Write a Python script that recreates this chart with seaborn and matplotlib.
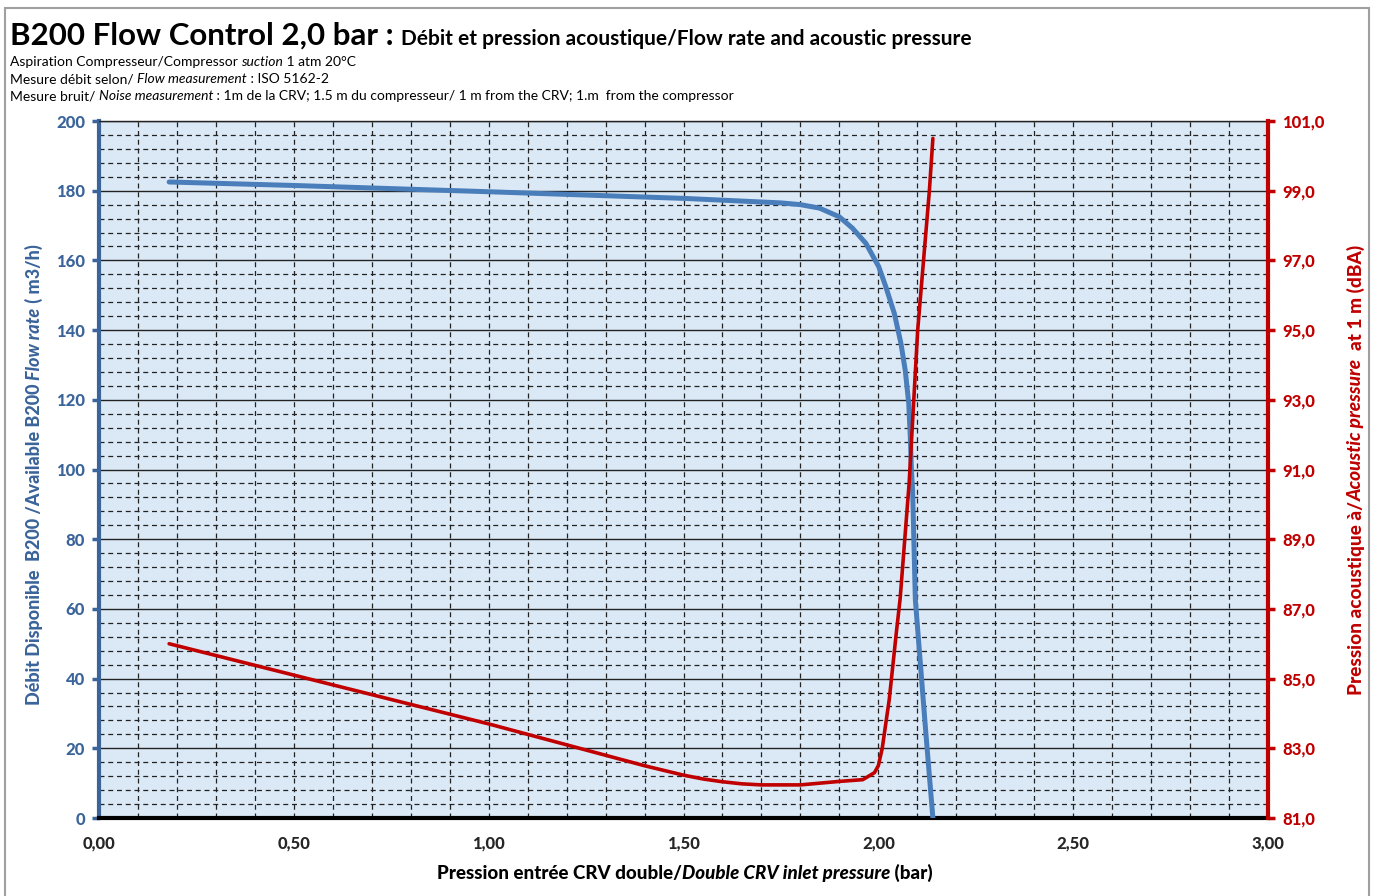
import numpy as np
import pandas as pd
import matplotlib
matplotlib.use('Agg')
import matplotlib.pyplot as plt
import seaborn as sns
from matplotlib.patches import Rectangle
from matplotlib.ticker import MultipleLocator, FixedLocator, FuncFormatter

# flow curve (left axis)
flow_p = [0.18, 0.50, 1.00, 1.50, 1.75, 1.80, 1.849, 1.90, 1.934, 1.968, 2.001, 2.019, 2.041,
          2.058, 2.069, 2.078, 2.082, 2.085, 2.088, 2.095, 2.122, 2.14]
flow_q = [182.5, 181.5, 179.7, 177.8, 176.5, 176.0, 175.0, 172.5, 169.2, 164.9, 158.2, 152.5, 144.8,
          136.2, 128.5, 119.0, 109.4, 99.7, 94.0, 62.6, 24.3, 0.0]

# noise curve (right axis)
noise_p = [0.18, 0.50, 1.00, 1.40, 1.50, 1.55, 1.60, 1.65, 1.70, 1.80, 1.90, 1.96, 1.99, 2.00,
           2.01, 2.028, 2.046, 2.056, 2.079, 2.101, 2.131, 2.14]
noise_db = [86.0, 85.1, 83.7, 82.5, 82.23, 82.12, 82.04, 81.98, 81.95, 81.95, 82.05, 82.1, 82.3, 82.5,
            83.0, 84.4, 86.3, 87.3, 90.6, 95.0, 99.0, 100.5]

# axis ticks
noise_ticks = [81, 83, 85, 87, 89, 91, 93, 95, 97, 99, 101]

BLUE = '#4a7ebb'
BLUE_TXT = '#3a649a'
RED = '#c00000'
HEAVY = 900

sns.set_style('white')
plt.rcParams['font.family'] = ['Lato', 'DejaVu Sans']
plt.rcParams['font.weight'] = HEAVY

W, H = 1374, 896
fig = plt.figure(figsize=(W / 100, H / 100), dpi=100)
ax = fig.add_axes([99 / W, 1 - 818 / H, (1268 - 99) / W, (818 - 121) / H])
ax.set_facecolor('#dbe9f7')

df_flow = pd.DataFrame({'p': flow_p, 'q': flow_q})
df_noise = pd.DataFrame({'p': noise_p, 'db': noise_db})

sns.lineplot(data=df_flow, x='p', y='q', ax=ax, color=BLUE, lw=3.6, sort=False,
             solid_capstyle='round', solid_joinstyle='round', zorder=5)

ax.set_xlim(0, 3)
ax.set_ylim(0, 200)
ax.xaxis.set_major_locator(MultipleLocator(0.5))
ax.xaxis.set_minor_locator(MultipleLocator(0.1))
ax.yaxis.set_major_locator(MultipleLocator(20))
ax.yaxis.set_minor_locator(MultipleLocator(4))
ax.grid(True, which='major', axis='y', color='#222222', lw=1.0, ls='-')
ax.grid(True, which='minor', axis='y', color='#222222', lw=0.9, ls=(0, (4, 3)))
ax.grid(True, which='both', axis='x', color='#222222', lw=0.9, ls=(0, (4, 3)))
ax.set_axisbelow(True)

ax.xaxis.set_major_formatter(FuncFormatter(lambda v, p: f'{v:.2f}'.replace('.', ',')))
ax.tick_params(axis='x', which='major', direction='inout', length=9, width=2.5,
               color='black', labelsize=12, pad=8)
ax.tick_params(axis='x', which='minor', length=0)
ax.tick_params(axis='y', which='major', direction='out', length=5, width=2.5,
               color=BLUE_TXT, labelcolor=BLUE_TXT, labelsize=12, pad=5)
ax.tick_params(axis='y', which='minor', length=0)

ax.spines['bottom'].set_linewidth(3)
ax.spines['bottom'].set_color('black')
ax.spines['left'].set_linewidth(3)
ax.spines['left'].set_color(BLUE_TXT)
ax.spines['top'].set_linewidth(1)
ax.spines['top'].set_color('#222222')
ax.spines['right'].set_visible(False)
ax.set_xlabel('')
ax.set_ylabel('')

ax2 = ax.twinx()
sns.lineplot(data=df_noise, x='p', y='db', ax=ax2, color=RED, lw=2.6, sort=False,
             solid_capstyle='round', solid_joinstyle='round', zorder=6)
ax2.set_ylim(81, 101)
ax2.yaxis.set_major_locator(FixedLocator(noise_ticks))
ax2.yaxis.set_major_formatter(FuncFormatter(lambda v, p: f'{v:.1f}'.replace('.', ',')))
ax2.tick_params(axis='y', which='major', direction='out', length=5, width=2.5,
                color=RED, labelcolor=RED, labelsize=12, pad=5)
for s in ['top', 'left', 'bottom']:
    ax2.spines[s].set_visible(False)
ax2.spines['right'].set_linewidth(3)
ax2.spines['right'].set_color(RED)
ax2.set_xlabel('')
ax2.set_ylabel('')
ax2.grid(False)

renderer = fig.canvas.get_renderer()


def rich(x, y, parts, size, color='black', weight='normal', rotation=0, center=False):
    # parts: list of (text, italic) ; x, y in pixels from top-left
    pieces = []
    for txt, it in parts:
        t = fig.text(0, 0, txt, fontsize=size, color=color, fontweight=weight,
                     fontstyle='italic' if it else 'normal', rotation=rotation,
                     rotation_mode='anchor', ha='left', va='baseline',
                     transform=None)
        pieces.append(t)
    sizes = []
    for t in pieces:
        bb = t.get_window_extent(renderer)
        sizes.append(bb.height if rotation else bb.width)
    total = sum(sizes)
    px, py = x, H - y
    if center:
        if rotation:
            py -= total / 2
        else:
            px -= total / 2
    for t, s in zip(pieces, sizes):
        t.set_position((px, py))
        if rotation:
            py += s
        else:
            px += s
    return px


end = rich(10, 45, [('B200 Flow Control 2,0 bar : ', False)], 22.5, weight='bold')
rich(end, 45, [('Débit et pression acoustique/Flow rate and acoustic pressure', False)], 15, weight='bold')
rich(10, 66, [('Aspiration Compresseur/Compressor ', False), ('suction', True), (' 1 atm 20°C', False)], 10)
rich(10, 83, [('Mesure débit selon/ ', False), ('Flow measurement', True), (' : ISO 5162-2', False)], 10)
rich(10, 100, [('Mesure bruit/ ', False), ('Noise measurement', True),
               (' : 1m de la CRV; 1.5 m du compresseur/ 1 m from the CRV; 1.m  from the compressor', False)], 10)

rich(685, 879, [('Pression entrée CRV double/', False), ('Double CRV inlet pressure', True), (' (bar)', False)],
     13.5, weight=HEAVY, center=True)
rich(40, 475, [('Débit Disponible  B200 /Available B200 ', False), ('Flow rate', True), (' ( m3/h)', False)],
     13, color=BLUE_TXT, weight=HEAVY, rotation=90, center=True)
rich(1362, 470, [('Pression acoustique à/', False), ('Acoustic pressure', True), ('  at 1 m (dBA)', False)],
     13.7, color=RED, weight=HEAVY, rotation=90, center=True)

fig.patches.append(Rectangle((5 / W, -0.02), 1364 / W, 1 - 8 / H + 0.02, transform=fig.transFigure,
                             fill=False, edgecolor='#a0a0a0', lw=1.5))

fig.savefig('out.png', dpi=100)
